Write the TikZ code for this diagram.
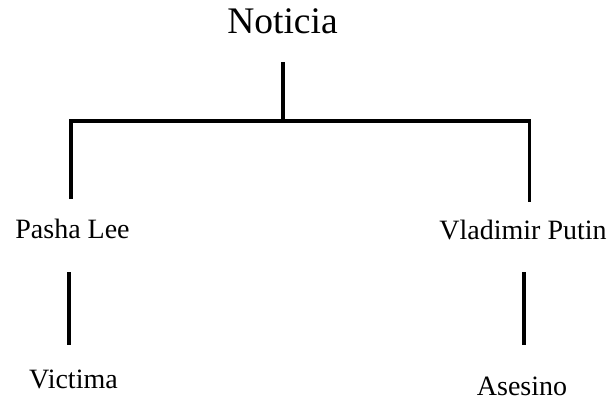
\documentclass[tikz,border=0pt]{standalone}
\usepackage{fontspec}
\setmainfont{Liberation Serif}
\usepackage{tikz}
\usetikzlibrary{calc}
\usetikzlibrary{positioning}

\tikzset{
  branch/.style={black, line width=3.2pt},
  label/.style={anchor=base, inner sep=0pt, font=\fontsize{28}{30}\selectfont},
  root/.style={anchor=base, inner sep=0pt, font=\fontsize{37.5}{40}\selectfont}
}

\begin{document}
\begin{tikzpicture}[x=1pt, y=-1pt]

\useasboundingbox (0,0) rectangle (611,402);

\node at (282.5,33) [root] (noticia) {Noticia};
\node at (72.5,238) [label] (pasha) {Pasha Lee};
\node at (523,239) [label] (putin) {Vladimir Putin};
\node at (73.5,388) [label] (victima) {Victima};
\node at (522,395) [label] (asesino) {Asesino};

\coordinate (ntail) at (283,62);
\coordinate (lcorner) at (71,121);
\coordinate (rcorner) at (529.5,121);
\coordinate (lend) at (71,199);
\coordinate (rend) at (529.5,202);

\draw[branch] (ntail) -- (ntail |- lcorner);
\draw[branch] (lend) -- (lcorner) -- (rcorner) -- (rend);

%\draw[step=10pt, gray, very thin, dotted] (0,0) grid (611,402);

\coordinate (ltop) at (69,272);
\coordinate (lbot) at (69,345);
\coordinate (rtop) at (524,272);
\coordinate (rbot) at (524,345);
\draw[branch] (ltop) -- (lbot);
\draw[branch] (rtop) -- (rbot);

\end{tikzpicture}
\end{document}
